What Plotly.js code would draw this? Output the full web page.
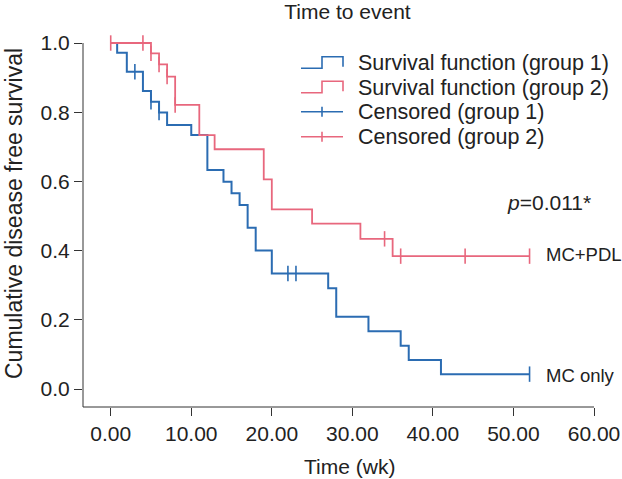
<!DOCTYPE html>
<html>
<head>
<meta charset="utf-8">
<script src="https://cdn.plot.ly/plotly-3.0.1.min.js"></script>
<style>
  html, body { margin: 0; padding: 0; background: #fff; }
  #chart { width: 622px; height: 479px; }
</style>
</head>
<body>
<div id="chart"></div>
<script>
// ---- Data ----
const weeks1 = [0, 0.8, 2, 4, 5, 6, 7, 10, 12, 14, 15, 16, 17, 18, 20, 27, 28, 32, 36, 37, 41, 52];
const surv1  = [1.0, 0.972, 0.917, 0.861, 0.830, 0.799, 0.763, 0.734, 0.633, 0.599, 0.566, 0.532, 0.466, 0.400, 0.334, 0.291, 0.209, 0.167, 0.125, 0.084, 0.043, 0.043];
const weeks2 = [0, 5, 6, 7, 8, 11, 12.9, 19, 20, 25, 31, 35, 52];
const surv2  = [1.0, 0.970, 0.938, 0.903, 0.821, 0.734, 0.693, 0.606, 0.519, 0.478, 0.434, 0.384, 0.384];
const censWeeks1 = [3, 5, 6, 22, 23, 52];
const censSurv1  = [0.917, 0.830, 0.799, 0.334, 0.334, 0.043];
const censWeeks2 = [0, 4, 5, 6, 7, 8, 34, 36, 44, 52];
const censSurv2  = [1.0, 1.0, 0.970, 0.938, 0.903, 0.821, 0.434, 0.384, 0.384, 0.384];
const xTicks = [0, 10, 20, 30, 40, 50, 60];
const yTicks = [0, 0.2, 0.4, 0.6, 0.8, 1.0];
const legendLabels = ['Survival function (group 1)', 'Survival function (group 2)', 'Censored (group 1)', 'Censored (group 2)'];
const groupLabels = ['MC only', 'MC+PDL'];
const pText = '<i>p</i>=0.011*';

// ---- Styles / layout ----
const BLUE = '#2b6cb2';
const RED = '#e8677d';
const TXT = '#222222';
const FONT = '"Liberation Sans", Arial, Helvetica, sans-serif';
const W = 622, H = 479;
const M = {l: 83, r: 28, t: 39, b: 72};
const PW = W - M.l - M.r, PH = H - M.t - M.b;
const XR = [-3.44, 60];
const YR = [-0.052, 1.0116];
// pixel -> paper helpers (layout positioning only)
const px = v => (v - M.l) / PW;
const py = v => (H - M.b - v) / PH;

const traces = [
  {x: weeks1, y: surv1, mode: 'lines', line: {shape: 'hv', color: BLUE, width: 2}, name: legendLabels[0], hoverinfo: 'x+y'},
  {x: weeks2, y: surv2, mode: 'lines', line: {shape: 'hv', color: RED, width: 1.8}, name: legendLabels[1], hoverinfo: 'x+y'},
  {x: censWeeks1, y: censSurv1, mode: 'markers', name: legendLabels[2], cliponaxis: false,
   marker: {symbol: 'line-ns', size: 11, color: BLUE, line: {color: BLUE, width: 1.6}}},
  {x: censWeeks2, y: censSurv2, mode: 'markers', name: legendLabels[3], cliponaxis: false,
   marker: {symbol: 'line-ns', size: 11, color: RED, line: {color: RED, width: 1.6}}}
];

// custom legend glyphs (step glyph for survival functions, ticked line for censored)
const rowsY = [63.3, 87.7, 111.7, 136.7];
const gx0 = 301, gxm = 322, gx1 = 343;
const shapes = [];
const annotations = [];
rowsY.forEach((c, i) => {
  const col = (i % 2 === 0) ? BLUE : RED;
  if (i < 2) {
    const path = 'M' + px(gx0) + ',' + py(c + 5) + ' L' + px(gxm) + ',' + py(c + 5) +
      ' L' + px(gxm) + ',' + py(c - 6.5) + ' L' + px(gx1) + ',' + py(c - 6.5) +
      ' L' + px(gx1) + ',' + py(c + 3.5);
    shapes.push({type: 'path', xref: 'paper', yref: 'paper', path: path, line: {color: col, width: 1.6}});
  } else {
    shapes.push({type: 'line', xref: 'paper', yref: 'paper', x0: px(gx0), x1: px(gx1), y0: py(c), y1: py(c), line: {color: col, width: 1.6}});
    shapes.push({type: 'line', xref: 'paper', yref: 'paper', x0: px(gxm), x1: px(gxm), y0: py(c - 5), y1: py(c + 5), line: {color: col, width: 1.6}});
  }
  annotations.push({xref: 'paper', yref: 'paper', x: px(356), y: py(c), xanchor: 'left', yanchor: 'middle',
    text: legendLabels[i], showarrow: false, font: {family: FONT, size: 21.5, color: TXT}});
});

// axis lines as shapes (y axis line ends at 1.0)
shapes.push({type: 'line', xref: 'paper', yref: 'y', x0: 0, x1: 0, y0: YR[0], y1: 1.0, line: {color: '#333', width: 1}});
shapes.push({type: 'line', xref: 'x', yref: 'paper', x0: XR[0], x1: 60, y0: 0, y1: 0, line: {color: '#333', width: 1}});

annotations.push({xref: 'paper', yref: 'paper', x: px(544), y: py(255), xanchor: 'left', yanchor: 'middle',
  text: groupLabels[1], showarrow: false, font: {family: FONT, size: 18.5, color: TXT}});
annotations.push({xref: 'paper', yref: 'paper', x: px(544), y: py(375), xanchor: 'left', yanchor: 'middle',
  text: groupLabels[0], showarrow: false, font: {family: FONT, size: 18.5, color: TXT}});
annotations.push({xref: 'paper', yref: 'paper', x: px(549), y: py(202), xanchor: 'center', yanchor: 'middle',
  text: pText, showarrow: false, font: {family: FONT, size: 21, color: TXT}});
// axis titles
annotations.push({xref: 'paper', yref: 'paper', x: px(349), y: py(466), xanchor: 'center', yanchor: 'middle',
  text: 'Time (wk)', showarrow: false, font: {family: FONT, size: 21, color: TXT}});
annotations.push({xref: 'paper', yref: 'paper', x: px(14), y: py(214), xanchor: 'center', yanchor: 'middle',
  text: 'Cumulative disease free survival', textangle: -90, showarrow: false, font: {family: FONT, size: 23, color: TXT}});

const layout = {
  width: W, height: H,
  margin: M,
  paper_bgcolor: '#fff', plot_bgcolor: '#fff',
  showlegend: false,
  title: {text: 'Time to event', x: 347.5 / W, xref: 'container', xanchor: 'center',
          y: 1 - 12 / H, yref: 'container', yanchor: 'middle',
          font: {family: FONT, size: 21, color: TXT}},
  xaxis: {range: XR, tickvals: xTicks, tickformat: '.2f', showgrid: false, zeroline: false, showline: false,
          ticks: 'outside', ticklen: 8, tickwidth: 1, tickcolor: '#333',
          tickfont: {family: FONT, size: 21, color: TXT}, fixedrange: true},
  yaxis: {range: YR, tickvals: yTicks, tickformat: '.1f', showgrid: false, zeroline: false, showline: false,
          ticks: 'outside', ticklen: 8, tickwidth: 1, tickcolor: '#333',
          tickfont: {family: FONT, size: 21, color: TXT}, fixedrange: true},
  shapes: shapes,
  annotations: annotations
};

Plotly.newPlot('chart', traces, layout, {displayModeBar: false, staticPlot: true});
</script>
</body>
</html>
